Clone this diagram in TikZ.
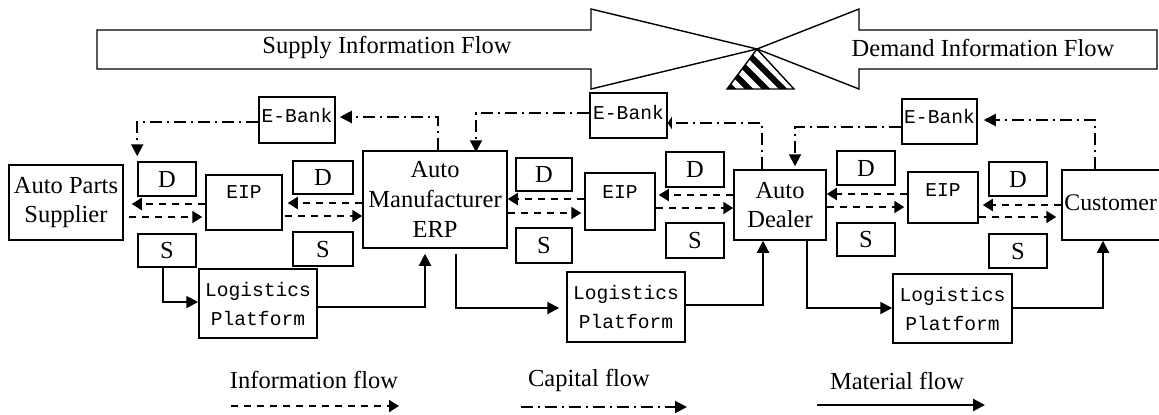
\documentclass[tikz,border=0pt]{standalone}
\usepackage{fontspec}
\setmainfont{Liberation Serif}
\newfontfamily\monofont{Liberation Mono}
\usetikzlibrary{arrows.meta}
\begin{document}
\begin{tikzpicture}[x=0.5pt,y=-0.5pt,
  box/.style={draw, line width=0.75pt, inner sep=0pt, align=center},
  txt/.style={font=\fontsize{12.25}{14.5}\selectfont},
  mono/.style={font=\monofont\fontsize{9.8}{14.5}\selectfont},
  info/.style={line width=1pt, dash pattern=on 3.5pt off 3pt, -{Triangle[length=5pt,width=6pt]}},
  capf/.style={line width=1pt, dash pattern=on 6pt off 2.5pt on 1pt off 2.5pt, -{Triangle[length=6pt,width=6pt]}},
  mat/.style={line width=1pt, -{Triangle[length=6pt,width=6pt]}},
  bigarrow/.style={draw, line width=0.7pt}
]
\useasboundingbox (0,0) rectangle (1159,414);

% top block arrows
\draw[bigarrow] (97,30) -- (591,30) -- (591,9) -- (757,49) -- (591,89) -- (591,69) -- (97,69) -- cycle;
\draw[bigarrow] (1157,30) -- (859,30) -- (859,9) -- (757,49) -- (859,89) -- (859,69) -- (1157,69) -- cycle;
\node[txt] (supflow) at (387,48) {Supply Information Flow};
\node[txt] (demflow) at (983,48) {Demand Information Flow};
\begin{scope}
  \clip (757,49) -- (727,89) -- (794,89) -- cycle;
  \foreach \k in {-3,...,5} \draw[line width=3pt] (690+\k*17,30) -- (760+\k*17,100);
\end{scope}
\draw[line width=0.7pt] (757,49) -- (727,89) -- (794,89) -- cycle;

% main nodes
\node[box, txt, minimum width=57pt, minimum height=37.5pt] (sup) at (66,202.5) {Auto Parts\\Supplier};
\node[box, txt, minimum width=72pt, minimum height=48.5pt, font=\fontsize{12.25}{15}\selectfont] (erp) at (435,199.5) {Auto\\Manufacturer\\ERP};
\node[box, txt, minimum width=46pt, minimum height=35pt] (dealer) at (780,205) {Auto\\Dealer};
\node[box, minimum width=56.5pt, minimum height=35pt] (cust) at (1118.5,205) {};
\node[txt, anchor=west, font=\fontsize{11.9}{14}\selectfont, inner sep=0pt] (custt) at (1064,203) {Customer};

% D and S boxes
\node[box, txt, minimum width=29pt, minimum height=17pt] (d1) at (167,179) {D};
\node[box, txt, minimum width=29pt, minimum height=16.5pt] (s1) at (167,250.5) {S};
\node[box, txt, minimum width=30pt, minimum height=16.5pt] (d2) at (323,177.5) {D};
\node[box, txt, minimum width=30pt, minimum height=17pt] (s2) at (323,249) {S};
\node[box, txt, minimum width=28pt, minimum height=16.5pt] (d3) at (544,174.5) {D};
\node[box, txt, minimum width=28pt, minimum height=17.5pt] (s3) at (544,245.5) {S};
\node[box, txt, minimum width=29pt, minimum height=17.5pt] (d4) at (695,169.5) {D};
\node[box, txt, minimum width=29pt, minimum height=17.5pt] (s4) at (695,240.5) {S};
\node[box, txt, minimum width=29pt, minimum height=17pt] (d5) at (866,168) {D};
\node[box, txt, minimum width=29pt, minimum height=16.5pt] (s5) at (866,239.5) {S};
\node[box, txt, minimum width=29pt, minimum height=17pt] (d6) at (1018,179) {D};
\node[box, txt, minimum width=29pt, minimum height=17pt] (s6) at (1018,251) {S};

% EIP boxes
\node[box, minimum width=38pt, minimum height=27.5pt] (eip1) at (244,202.5) {};
\node[mono] (eip1t) at (244,192) {EIP};
\node[box, minimum width=35pt, minimum height=28.5pt] (eip2) at (620,201.5) {};
\node[mono] (eip2t) at (620,192) {EIP};
\node[box, minimum width=35pt, minimum height=25.5pt] (eip3) at (943,197.5) {};
\node[mono] (eip3t) at (943,190) {EIP};

% E-Bank boxes
\node[box, minimum width=38pt, minimum height=23pt] (bank1) at (297,120) {};
\node[mono] (bank1t) at (297,115) {E-Bank};
\node[box, minimum width=38.5pt, minimum height=22.5pt] (bank2) at (628.5,115.5) {};
\node[mono] (bank2t) at (628.5,112) {E-Bank};
\node[box, minimum width=37.5pt, minimum height=22.5pt] (bank3) at (939.5,121.5) {};
\node[mono] (bank3t) at (939.5,116) {E-Bank};

% Logistics platforms
\node[box, mono, minimum width=59pt, minimum height=34.5pt] (log1) at (258,303.5) {Logistics\\Platform};
\node[box, mono, minimum width=59pt, minimum height=35pt] (log2) at (626,307) {Logistics\\Platform};
\node[box, mono, minimum width=59.5pt, minimum height=34.5pt] (log3) at (952.5,308.5) {Logistics\\Platform};

% information flow
\draw[info, shorten >=4pt] (eip1.west |- 0,204) -- (sup.east |- 0,204);
\draw[info, shorten <=2.5pt, shorten >=1.5pt] (sup.east |- 0,217) -- (eip1.west |- 0,217);
\draw[info, shorten >=2.5pt] (erp.west |- 0,203) -- (eip1.east |- 0,203);
\draw[info, shorten <=1pt] (eip1.east |- 0,216) -- (erp.west |- 0,216);
\draw[info] (eip2.west |- 0,199) -- (erp.east |- 0,199);
\draw[info, shorten >=1.5pt] (erp.east |- 0,213) -- (eip2.west |- 0,213);
\draw[info, shorten >=1.5pt] (dealer.west |- 0,195) -- (eip2.east |- 0,195);
\draw[info] (eip2.east |- 0,208) -- (dealer.west |- 0,208);
\draw[info] (eip3.west |- 0,194) -- (dealer.east |- 0,194);
\draw[info, shorten >=1.5pt] (dealer.east |- 0,207) -- (eip3.west |- 0,207);
\draw[info, shorten >=2pt] (cust.west |- 0,205) -- (eip3.east |- 0,205);
\draw[info, shorten >=2.5pt] (eip3.east |- 0,217) -- (cust.west |- 0,217);

% capital flow
\draw[capf, shorten >=2pt] (erp.north -| 438,0) |- (bank1.east |- 0,117);
\draw[capf, shorten >=2.5pt] (bank1.west |- 0,122) -| (d1.north west);
\draw[capf, shorten >=-1pt] (bank2.west |- 0,113) -| (erp.north -| 476,0);
\draw[capf, -{Triangle[length=2pt,width=6pt]}] (dealer.north -| 762,0) |- (bank2.east |- 0,123);
\draw[capf, shorten >=1.5pt] (bank3.west |- 0,127) -| (dealer.north -| 795,0);
\draw[capf, shorten >=3pt] (cust.north -| 1095,0) |- (bank3.east |- 0,120);

% material flow
\draw[mat] (s1.south -| 163,0) |- (log1.west |- 0,302);
\draw[mat, shorten >=2.5pt] (log1.east |- 0,307) -| (erp.south -| 425,0);
\draw[mat, shorten <=2.5pt, shorten >=3.5pt] (erp.south -| 456,0) |- (log2.west |- 0,308);
\draw[mat] (log2.east |- 0,305) -| (dealer.south -| 763,0);
\draw[mat] (dealer.south -| 807,0) |- (log3.west |- 0,308);
\draw[mat] (log3.east |- 0,308) -| (cust.south -| 1103,0);

% legend
\node[txt] (lgi) at (314,380) {Information flow};
\node[txt] (lgc) at (589,380) {Capital flow};
\node[txt] (lgm) at (897,381) {Material flow};
\coordinate (i1) at (231,406); \coordinate (i2) at (399,406);
\coordinate (c1) at (521,407); \coordinate (c2) at (687,407);
\coordinate (m1) at (817,405); \coordinate (m2) at (985,405);
\draw[info] (i1) -- (i2);
\draw[capf] (c1) -- (c2);
\draw[mat, line width=1.3pt] (m1) -- (m2);
\end{tikzpicture}
\end{document}
